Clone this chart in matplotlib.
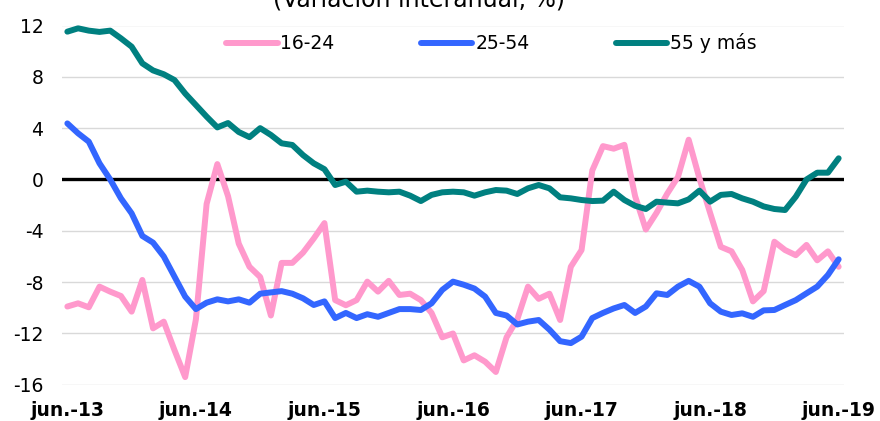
import numpy as np
import matplotlib
matplotlib.use("Agg")
import matplotlib.pyplot as plt

# monthly series, jun-2013 .. jun-2019 (year-on-year change, %)
tick_labels = ["jun.-13", "jun.-14", "jun.-15", "jun.-16", "jun.-17", "jun.-18", "jun.-19"]
series_names = ["16-24", "25-54", "55 y más"]

age_16_24 = [
    -9.9, -9.65, -9.96, -8.35, -8.74, -9.08, -10.3, -7.83, -11.6, -11.08,
    -13.3, -15.4, -10.9, -1.9, 1.2, -1.3, -5.0, -6.8, -7.6, -10.6,
    -6.5, -6.5, -5.7, -4.6, -3.4, -9.4, -9.8, -9.4, -7.96, -8.74,
    -7.9, -9.0, -8.9, -9.4, -10.4, -12.3, -12.0, -14.1, -13.7, -14.2,
    -15.0, -12.3, -10.9, -8.35, -9.3, -8.9, -10.95, -6.8, -5.5, 0.7,
    2.6, 2.4, 2.7, -1.3, -3.9, -2.6, -1.1, 0.2, 3.1, 0.1,
    -2.6, -5.25, -5.6, -7.05, -9.5, -8.7, -4.85, -5.5, -5.9, -5.1,
    -6.3, -5.6, -6.8,
]
age_25_54 = [
    4.37, 3.6, 2.95, 1.26, 0.0, -1.47, -2.64, -4.4, -4.92, -6.0,
    -7.57, -9.13, -10.1, -9.6, -9.34, -9.5, -9.34, -9.6, -8.9, -8.8,
    -8.7, -8.9, -9.26, -9.78, -9.5, -10.8, -10.4, -10.8, -10.5, -10.7,
    -10.4, -10.1, -10.1, -10.17, -9.65, -8.6, -7.96, -8.2, -8.5, -9.13,
    -10.4, -10.6, -11.3, -11.08, -10.95, -11.7, -12.6, -12.75, -12.25, -10.8,
    -10.4, -10.05, -9.78, -10.4, -9.9, -8.87, -9.0, -8.35, -7.9, -8.35,
    -9.65, -10.3, -10.56, -10.43, -10.7, -10.2, -10.17, -9.78, -9.4, -8.87,
    -8.35, -7.44, -6.22,
]
age_55_plus = [
    11.52, 11.78, 11.6, 11.5, 11.6, 11.0, 10.35, 9.05, 8.5, 8.2,
    7.75, 6.7, 5.8, 4.9, 4.06, 4.4, 3.7, 3.3, 4.0, 3.47,
    2.82, 2.69, 1.9, 1.26, 0.8, -0.43, -0.17, -0.95, -0.87, -0.95,
    -1.0, -0.95, -1.26, -1.68, -1.2, -1.0, -0.95, -1.0, -1.26, -1.0,
    -0.82, -0.87, -1.13, -0.69, -0.43, -0.69, -1.39, -1.47, -1.6, -1.68,
    -1.65, -0.95, -1.6, -2.05, -2.3, -1.73, -1.8, -1.86, -1.55, -0.87,
    -1.73, -1.2, -1.13, -1.47, -1.73, -2.1, -2.3, -2.38, -1.34, 0.0,
    0.53, 0.53, 1.65,
]
y_ticks = [-16, -12, -8, -4, 0, 4, 8, 12]

colors = ["#FF99CC", "#3366FF", "#008080"]

plt.rcParams["font.family"] = "DejaVu Sans"

fig = plt.figure(figsize=(8.8, 4.21), dpi=100)
ax = fig.add_axes([62 / 880, 1 - 384.8 / 421, 782 / 880, 359.3 / 421])

months = np.arange(len(age_16_24))
for vals, name, col in zip([age_16_24, age_25_54, age_55_plus], series_names, colors):
    ax.plot(months, vals, color=col, lw=4.3, label=name,
            solid_joinstyle="round", solid_capstyle="round", zorder=3, clip_on=False)

ax.axhline(0, color="black", lw=2.4, zorder=2)

ax.set_xlim(-0.5, len(months) - 0.5)
ax.set_ylim(y_ticks[0], y_ticks[-1])
ax.set_yticks(y_ticks)
ax.set_yticklabels([str(t) for t in y_ticks])
ax.set_xticks(months[::12])
ax.set_xticklabels(tick_labels, fontweight="bold")
ax.grid(axis="y", color="#D9D9D9", lw=1.0, zorder=0)
ax.set_axisbelow(True)
for s in ax.spines.values():
    s.set_visible(False)
ax.tick_params(axis="y", length=0, pad=13.5, labelsize=13.5)
ax.tick_params(axis="x", length=0, pad=12, labelsize=13.5)

leg = ax.legend(loc="center", bbox_to_anchor=(0.549, 0.951), ncol=3, frameon=False,
                fontsize=13.5, handlelength=2.75, handletextpad=0.15,
                columnspacing=4.6, borderpad=0, borderaxespad=0)

# title sits partly above the canvas in the original
fig.text(419 / 880, 1 - 7.5 / 421, "(Variación interanual, %)", ha="center",
         va="baseline", fontsize=17)

fig.savefig("out.png", dpi=100)
plt.close(fig)
